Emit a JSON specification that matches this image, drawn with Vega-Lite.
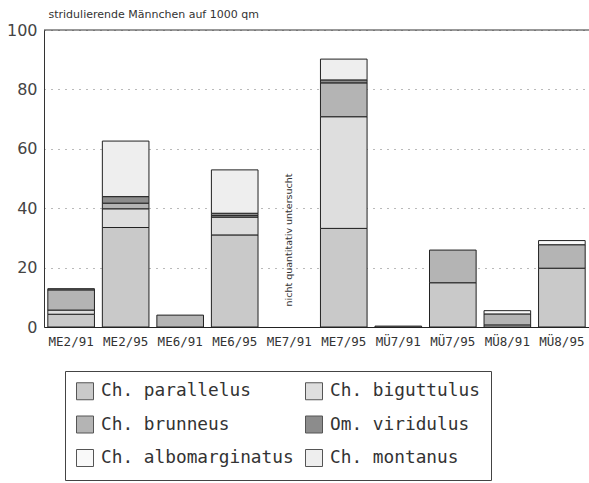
{
  "$schema": "https://vega.github.io/schema/vega-lite/v6.json",
  "width": 545,
  "height": 297,
  "autosize": "none",
  "padding": {"left": 44, "top": 30, "right": 0, "bottom": 156},
  "background": "white",
  "config": {"view": {"stroke": null}},
  "datasets": {
    "bars": [
      {"site": "ME2/91", "species": "Ch. parallelus", "value": 4.3},
      {"site": "ME2/91", "species": "Ch. biguttulus", "value": 1.4},
      {"site": "ME2/91", "species": "Ch. brunneus", "value": 6.8},
      {"site": "ME2/91", "species": "Om. viridulus", "value": 0.4},
      {"site": "ME2/95", "species": "Ch. parallelus", "value": 33.5},
      {"site": "ME2/95", "species": "Ch. biguttulus", "value": 6.3},
      {"site": "ME2/95", "species": "Ch. brunneus", "value": 1.9},
      {"site": "ME2/95", "species": "Om. viridulus", "value": 2.2},
      {"site": "ME2/95", "species": "Ch. montanus", "value": 18.7},
      {"site": "ME6/91", "species": "Ch. brunneus", "value": 4.0},
      {"site": "ME6/95", "species": "Ch. parallelus", "value": 31.0},
      {"site": "ME6/95", "species": "Ch. biguttulus", "value": 6.0},
      {"site": "ME6/95", "species": "Ch. brunneus", "value": 0.5},
      {"site": "ME6/95", "species": "Om. viridulus", "value": 0.8},
      {"site": "ME6/95", "species": "Ch. montanus", "value": 14.6},
      {"site": "ME7/95", "species": "Ch. parallelus", "value": 33.2},
      {"site": "ME7/95", "species": "Ch. biguttulus", "value": 37.6},
      {"site": "ME7/95", "species": "Ch. brunneus", "value": 11.4},
      {"site": "ME7/95", "species": "Om. viridulus", "value": 1.0},
      {"site": "ME7/95", "species": "Ch. montanus", "value": 7.0},
      {"site": "MÜ7/91", "species": "Ch. parallelus", "value": 0.3},
      {"site": "MÜ7/95", "species": "Ch. parallelus", "value": 14.9},
      {"site": "MÜ7/95", "species": "Ch. brunneus", "value": 11.0},
      {"site": "MÜ8/91", "species": "Ch. parallelus", "value": 0.7},
      {"site": "MÜ8/91", "species": "Ch. brunneus", "value": 3.7},
      {"site": "MÜ8/91", "species": "Ch. albomarginatus", "value": 1.1},
      {"site": "MÜ8/95", "species": "Ch. parallelus", "value": 19.8},
      {"site": "MÜ8/95", "species": "Ch. brunneus", "value": 7.9},
      {"site": "MÜ8/95", "species": "Ch. albomarginatus", "value": 1.4}
    ],
    "note": [
      {"site": "ME7/91", "value": 29.3, "text": "nicht quantitativ untersucht"}
    ],
    "top": [{"value": 100}]
  },
  "layer": [
    {
      "data": {"name": "bars"},
      "transform": [
        {"calculate": "indexof(['Ch. parallelus', 'Ch. biguttulus', 'Ch. brunneus', 'Om. viridulus', 'Ch. albomarginatus', 'Ch. montanus'], datum.species)", "as": "stackOrder"}
      ],
      "mark": {"type": "bar", "stroke": "#222", "strokeWidth": 1},
      "encoding": {
        "x": {
          "field": "site",
          "type": "nominal",
          "scale": {"domain": ["ME2/91", "ME2/95", "ME6/91", "ME6/95", "ME7/91", "ME7/95", "MÜ7/91", "MÜ7/95", "MÜ8/91", "MÜ8/95"], "paddingInner": 0.145, "paddingOuter": 0.07},
          "axis": {
            "title": null,
            "labelAngle": 0,
            "ticks": false,
            "labelPadding": 8,
            "labelFont": "DejaVu Sans Mono",
            "labelFontSize": 12.5,
            "labelColor": "#333",
            "domainColor": "#222",
            "domainWidth": 1.2
          }
        },
        "y": {
          "field": "value",
          "type": "quantitative",
          "stack": "zero",
          "scale": {"domain": [0, 100], "nice": false},
          "axis": {
            "values": [0, 20, 40, 60, 80, 100],
            "ticks": false,
            "labelPadding": 7,
            "labelFont": "DejaVu Sans",
            "labelFontSize": 16,
            "labelColor": "#444",
            "domainColor": "#333",
            "grid": true,
            "gridDash": [1, 6],
            "gridColor": "#777",
            "gridWidth": 1.2,
            "title": "stridulierende Männchen auf 1000 qm",
            "titleAngle": 0,
            "titleAlign": "left",
            "titleBaseline": "middle",
            "titleX": 4,
            "titleY": -16,
            "titleFont": "DejaVu Sans",
            "titleFontSize": 11,
            "titleFontWeight": "normal",
            "titleColor": "#333"
          }
        },
        "order": {"field": "stackOrder", "type": "quantitative", "sort": "ascending"},
        "color": {
          "field": "species",
          "type": "nominal",
          "sort": ["Ch. parallelus", "Ch. biguttulus", "Ch. brunneus", "Om. viridulus", "Ch. albomarginatus", "Ch. montanus"],
          "scale": {
            "domain": ["Ch. parallelus", "Ch. biguttulus", "Ch. brunneus", "Om. viridulus", "Ch. albomarginatus", "Ch. montanus"],
            "range": ["#c9c9c9", "#dedede", "#b4b4b4", "#8c8c8c", "#f9f9f9", "#eeeeee"]
          },
          "legend": {
            "title": null,
            "orient": "none",
            "legendX": 21,
            "legendY": 341,
            "direction": "horizontal",
            "columns": 2,
            "gridAlign": "all",
            "columnPadding": 9,
            "rowPadding": 11.5,
            "padding": 11,
            "strokeColor": "#444",
            "fillColor": "white",
            "symbolType": "square",
            "symbolSize": 289,
            "symbolStrokeColor": "#555",
            "symbolStrokeWidth": 1,
            "labelOffset": 7,
            "labelFont": "DejaVu Sans Mono",
            "labelFontSize": 17.8,
            "labelColor": "#333",
            "labelLimit": 400
          }
        }
      }
    },
    {
      "data": {"name": "note"},
      "mark": {"type": "text", "angle": 270, "font": "DejaVu Sans", "fontSize": 9.5, "color": "#333", "align": "center", "baseline": "middle"},
      "encoding": {
        "x": {"field": "site", "type": "nominal"},
        "y": {"field": "value", "type": "quantitative"},
        "text": {"field": "text"}
      }
    },
    {
      "data": {"name": "top"},
      "mark": {"type": "rule", "color": "#333", "strokeWidth": 1.2},
      "encoding": {
        "y": {"field": "value", "type": "quantitative"}
      }
    }
  ]
}
